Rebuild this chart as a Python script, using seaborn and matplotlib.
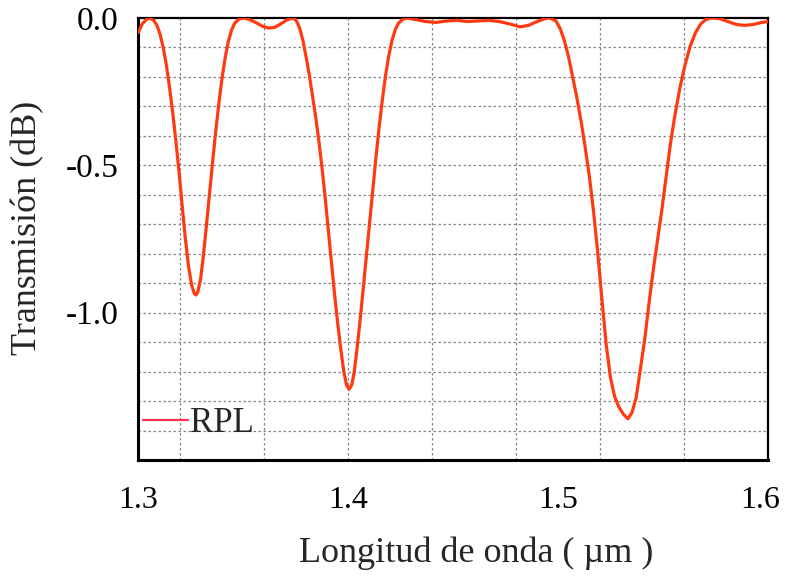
import numpy as np
import pandas as pd
import matplotlib
matplotlib.use("Agg")
import matplotlib.pyplot as plt
import matplotlib.transforms as mtransforms
import seaborn as sns

# Wavelength samples (µm) and transmission (dB) of the RPL filter response
wavelength = [
    1.3000, 1.3020, 1.3040, 1.3057, 1.3075, 1.3090, 1.3105, 1.3120, 1.3135, 1.3150,
    1.3165, 1.3180, 1.3195, 1.3210, 1.3225, 1.3240, 1.3255, 1.3268, 1.3276, 1.3285,
    1.3298, 1.3310, 1.3325, 1.3340, 1.3355, 1.3370, 1.3385, 1.3400, 1.3415, 1.3430,
    1.3445, 1.3460, 1.3480, 1.3500, 1.3530, 1.3560, 1.3590, 1.3620, 1.3650, 1.3680,
    1.3710, 1.3740, 1.3755, 1.3770, 1.3785, 1.3800, 1.3815, 1.3830, 1.3845, 1.3860,
    1.3875, 1.3890, 1.3905, 1.3920, 1.3935, 1.3950, 1.3965, 1.3980, 1.3993, 1.4005,
    1.4018, 1.4030, 1.4045, 1.4060, 1.4075, 1.4090, 1.4105, 1.4120, 1.4135, 1.4150,
    1.4165, 1.4180, 1.4195, 1.4210, 1.4225, 1.4240, 1.4260, 1.4280, 1.4320, 1.4370,
    1.4420, 1.4470, 1.4520, 1.4570, 1.4620, 1.4670, 1.4720, 1.4770, 1.4820, 1.4860,
    1.4900, 1.4940, 1.4960, 1.4990, 1.5010, 1.5030, 1.5050, 1.5070, 1.5090, 1.5110,
    1.5130, 1.5150, 1.5170, 1.5190, 1.5210, 1.5230, 1.5250, 1.5270, 1.5290, 1.5312,
    1.5333, 1.5352, 1.5372, 1.5393, 1.5415, 1.5435, 1.5455, 1.5475, 1.5495, 1.5515,
    1.5535, 1.5557, 1.5580, 1.5605, 1.5630, 1.5655, 1.5680, 1.5705, 1.5730, 1.5770,
    1.5810, 1.5850, 1.5890, 1.5930, 1.5970, 1.6000,
]
transmission = [
    -0.050, -0.020, -0.005, 0.000, -0.008, -0.025, -0.055, -0.100, -0.160, -0.235,
    -0.320, -0.415, -0.520, -0.635, -0.745, -0.840, -0.905, -0.935, -0.940, -0.930,
    -0.885, -0.815, -0.710, -0.600, -0.490, -0.385, -0.290, -0.205, -0.135, -0.080,
    -0.042, -0.018, -0.004, 0.000, -0.005, -0.015, -0.027, -0.034, -0.032, -0.020,
    -0.006, 0.000, -0.010, -0.035, -0.075, -0.130, -0.190, -0.260, -0.330, -0.410,
    -0.500, -0.600, -0.710, -0.820, -0.930, -1.030, -1.120, -1.200, -1.245, -1.260,
    -1.245, -1.200, -1.110, -1.010, -0.900, -0.790, -0.680, -0.570, -0.460, -0.360,
    -0.270, -0.190, -0.125, -0.075, -0.040, -0.018, -0.005, 0.000, -0.005, -0.012,
    -0.015, -0.010, -0.008, -0.012, -0.010, -0.008, -0.012, -0.020, -0.030, -0.025,
    -0.012, -0.002, 0.000, -0.010, -0.035, -0.075, -0.130, -0.200, -0.270, -0.350,
    -0.440, -0.540, -0.660, -0.800, -0.960, -1.110, -1.220, -1.285, -1.320, -1.345,
    -1.360, -1.340, -1.290, -1.190, -1.080, -0.960, -0.850, -0.750, -0.650, -0.540,
    -0.430, -0.330, -0.240, -0.160, -0.095, -0.050, -0.020, -0.005, 0.000, -0.002,
    -0.012, -0.022, -0.025, -0.022, -0.015, -0.012,
]
series_name = "RPL"

x_ticks = [1.3, 1.4, 1.5, 1.6]
x_tick_labels = ["1.3", "1.4", "1.5", "1.6"]
y_ticks = [0.0, -0.5, -1.0]
y_tick_labels = ["0.0", "-0.5", "-1.0"]

sns.set_style("white")
plt.rcParams["font.family"] = ["Liberation Serif", "DejaVu Serif"]

df = pd.DataFrame({"wavelength": wavelength, "transmission": transmission,
                   "series": series_name})

fig = plt.figure(figsize=(7.86, 5.79), dpi=100)
ax = fig.add_axes([0.1756, 0.2055, 0.8014, 0.7634])

# dotted grid: every 0.04 µm horizontally, every 0.1 dB vertically
grid_kw = dict(color="#858585", lw=0.9, ls=(0, (2.0, 2.0)), zorder=0)
for gx in np.arange(1.32, 1.599, 0.04):
    ax.axvline(gx, **grid_kw)
for gy in np.arange(-1.4, -0.05, 0.1):
    ax.axhline(gy, **grid_kw)

sns.lineplot(data=df, x="wavelength", y="transmission", hue="series",
             palette=["#ff3a10"], lw=2.3, ax=ax, sort=False, zorder=3)

ax.set_xlim(1.3, 1.6)
ax.set_ylim(-1.5, 0.0)
ax.set_xticks(x_ticks)
ax.set_xticklabels(x_tick_labels)
ax.set_yticks(y_ticks)
ax.set_yticklabels(y_tick_labels)
ax.tick_params(axis="both", direction="in", length=4, width=1.0,
               colors="black")
ax.tick_params(axis="x", labelsize=23, pad=19)
ax.tick_params(axis="y", labelsize=24, pad=14)

# keep the last wavelength label inside the figure edge
last = ax.get_xticklabels()[-1]
last.set_transform(last.get_transform() +
                   mtransforms.ScaledTranslation(-8 / 100, 0, fig.dpi_scale_trans))

for side in ["left", "bottom"]:
    ax.spines[side].set_linewidth(2.2)
for side in ["top", "right"]:
    ax.spines[side].set_linewidth(1.6)
for s in ax.spines.values():
    s.set_color("black")
    s.set_visible(True)

ax.set_xlabel("Longitud de onda ( µm )", fontsize=26, va="top")
ax.xaxis.set_label_coords(0.5365, -0.172)
ax.set_ylabel("Transmisión (dB)", fontsize=26, va="center")
ax.yaxis.set_label_coords(-0.1746, 0.525)

handles, labels = ax.get_legend_handles_labels()
leg = ax.legend(handles, labels, loc="center left", frameon=False,
                fontsize=25, handlelength=1.3, handletextpad=0.06,
                borderpad=0.0, borderaxespad=0.0,
                bbox_to_anchor=(0.0079, 0.083))
for h in leg.get_lines():
    h.set_linewidth(1.6)
    h.set_color("#ff3050")

fig.savefig("out.png", dpi=100, facecolor="white")
